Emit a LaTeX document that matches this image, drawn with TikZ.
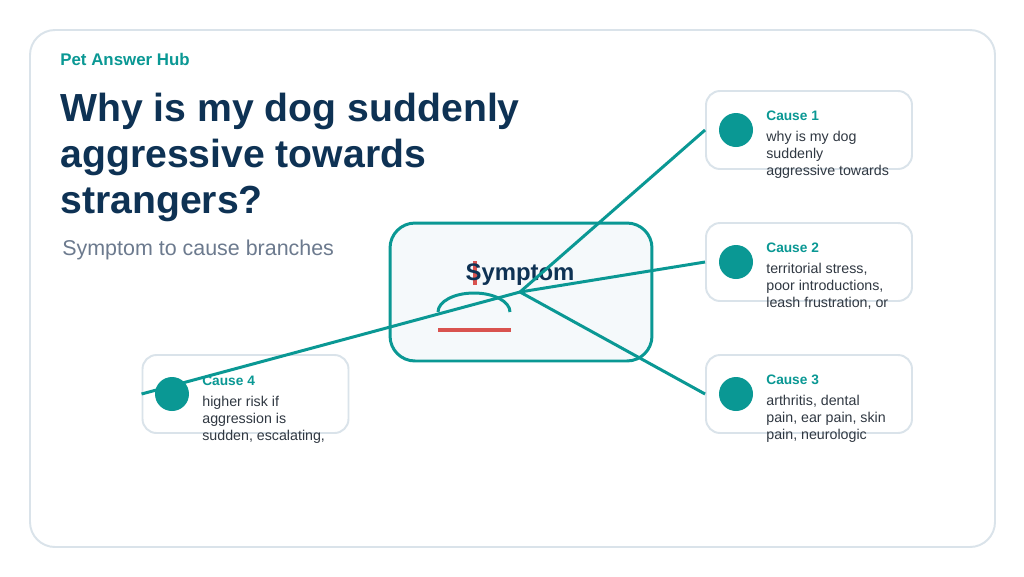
\documentclass[tikz,border=0pt]{standalone}
\usepackage{fontspec}
\setmainfont{Liberation Sans}
\usetikzlibrary{calc}
\definecolor{hubteal}{RGB}{10,152,148}
\definecolor{hubnavy}{RGB}{14,50,84}
\definecolor{subgray}{RGB}{108,122,142}
\definecolor{bodygray}{RGB}{48,56,66}
\definecolor{cardline}{RGB}{218,227,234}
\definecolor{symfill}{RGB}{245,249,251}
\definecolor{alertred}{RGB}{217,83,79}

\begin{document}
\begin{tikzpicture}[x=0.02cm, y=-0.02cm, every node/.style={inner sep=0pt},
  causebox/.style={draw=cardline, line width=1.1pt, fill=white, rounded corners=0.28cm,
                   minimum width=4.12cm, minimum height=1.56cm},
  causedot/.style={circle, fill=hubteal, minimum size=0.68cm},
  causehead/.style={anchor=base west, text=hubteal, font=\fontsize{7.8}{9}\selectfont\bfseries},
  causetext/.style={anchor=north west, text=bodygray, align=left, font=\fontsize{8.1}{9.6}\selectfont},
  branch/.style={hubteal, line width=1.7pt}]
  % --- page and outer card ---
  \useasboundingbox[fill=white] (0,0) rectangle (1024,576);
  \draw[cardline, line width=1.1pt, rounded corners=0.5cm] (30,30) rectangle (995,547);
  % --- header texts ---
  \node[anchor=base west, text=hubteal, font=\fontsize{9.6}{11}\selectfont\bfseries] (brand) at (60,65.5) {Pet Answer Hub};
  \node[anchor=north west, text=hubnavy, align=left, font=\fontsize{22.3}{26.1}\selectfont\bfseries] (title) at (60,93)
    {Why is my dog suddenly\\aggressive towards\\strangers?};
  \node[anchor=base west, text=subgray, font=\fontsize{12.2}{14}\selectfont] (subtitle) at (62,255.5) {Symptom to cause branches};
  % --- central symptom card ---
  \node[draw=hubteal, line width=1.7pt, fill=symfill, rounded corners=0.5cm,
        minimum width=5.24cm, minimum height=2.76cm] (symptom) at (521,292) {};
  \draw[alertred, line width=2.3pt] (475,261) -- (475,285);
  \node[anchor=base, text=hubnavy, font=\fontsize{13.6}{15}\selectfont\bfseries] (symlabel) at (520,280) {Symptom};
  \draw[hubteal, line width=1.7pt] (438,312) arc[start angle=180, end angle=0, x radius=36, y radius=-19];
  \draw[alertred, line width=1.9pt] (438,330) -- (511,330);
  \coordinate (hub) at (520,292);
  % --- cause cards (3 right, 1 left) ---
  \node[causebox] (cause1) at (809,130) {};
  \node[causebox] (cause2) at (809,262) {};
  \node[causebox] (cause3) at (809,394) {};
  \node[causebox] (cause4) at (245.5,394) {};
  \node[causehead] (head1) at (766,120) {Cause 1};
  \node[causetext] (text1) at (766,131) {why is my dog\\suddenly\\aggressive towards};
  \node[causehead] (head2) at (766,252) {Cause 2};
  \node[causetext] (text2) at (766,263) {territorial stress,\\poor introductions,\\leash frustration, or};
  \node[causehead] (head3) at (766,384) {Cause 3};
  \node[causetext] (text3) at (766,395) {arthritis, dental\\pain, ear pain, skin\\pain, neurologic};
  \node[causehead] (head4) at (202,385) {Cause 4};
  \node[causetext] (text4) at (202,396) {higher risk if\\aggression is\\sudden, escalating,};
  % --- branches from the hub ---
  \foreach \c in {cause1,cause2,cause3,cause4}{
    \draw[branch] (hub) -- (\c.west);
  }
  % --- cause dots ---
  \node[causedot] (dot1) at (736,130) {};
  \node[causedot] (dot2) at (736,262) {};
  \node[causedot] (dot3) at (736,394) {};
  \node[causedot] (dot4) at (172,394) {};
\end{tikzpicture}
\end{document}
